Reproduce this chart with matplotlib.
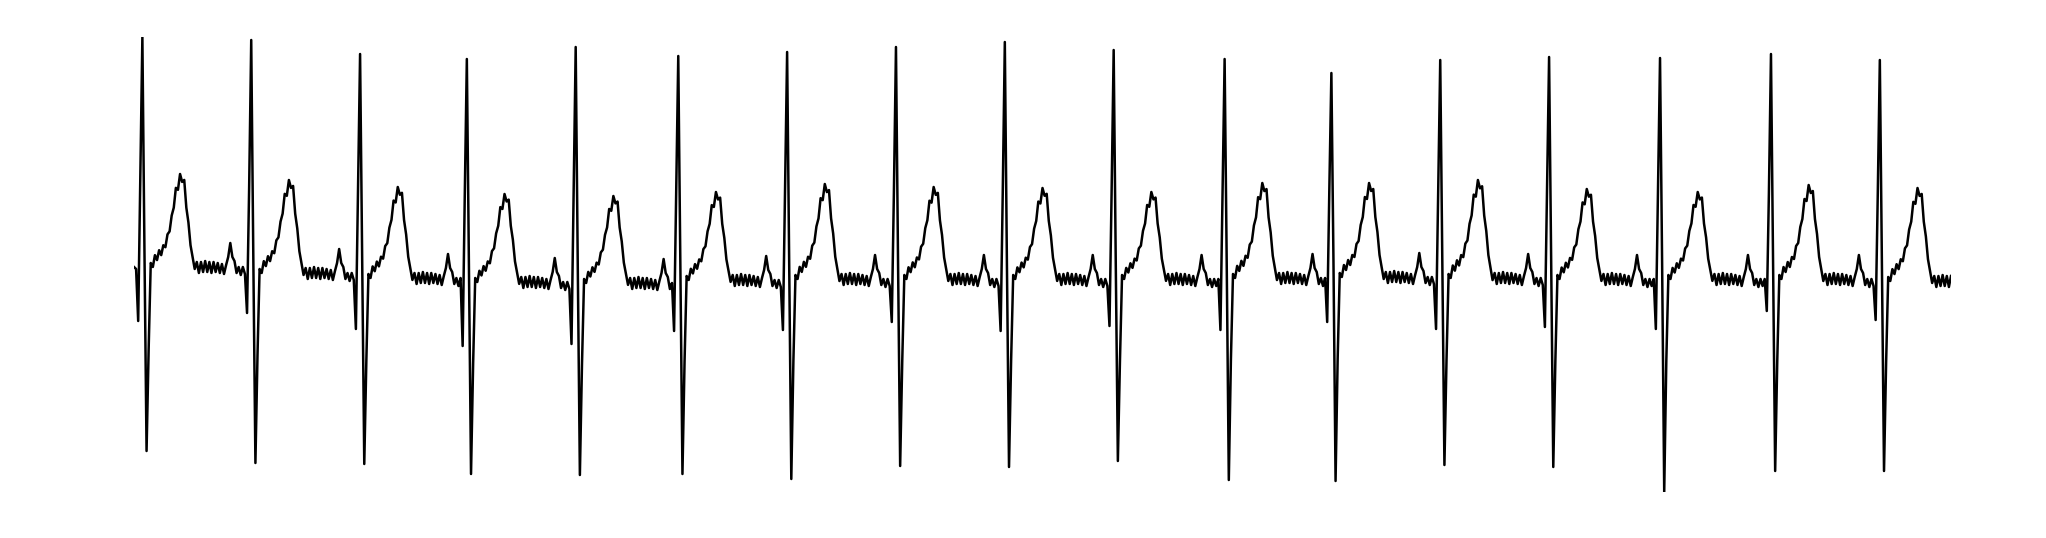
import numpy as np
import matplotlib.pyplot as plt

# readings per beat (17 beats), values in mV
baseline = [0.03, -0.03, -0.08, -0.12, -0.13, -0.10, -0.09, -0.09, -0.09,
            -0.09, -0.08, -0.07, -0.08, -0.09, -0.09, -0.09, -0.11]
q_dip = [-0.51, -0.43, -0.59, -0.76, -0.74, -0.61, -0.60, -0.52, -0.61,
         -0.56, -0.60, -0.52, -0.59, -0.57, -0.59, -0.41, -0.50]
r_peak = [2.33, 2.30, 2.16, 2.11, 2.23, 2.14, 2.18, 2.23, 2.28,
          2.20, 2.11, 1.97, 2.10, 2.13, 2.12, 2.16, 2.10]
s_trough = [-1.81, -1.93, -1.94, -2.04, -2.05, -2.04, -2.09, -1.96, -1.97,
            -1.91, -2.10, -2.11, -1.95, -1.97, -2.22, -2.01, -2.01]
t_peak = [0.96, 0.90, 0.83, 0.76, 0.74, 0.78, 0.86, 0.83, 0.82,
          0.78, 0.87, 0.87, 0.90, 0.81, 0.78, 0.85, 0.82]
# samples between successive R peaks
rr = [52, 52, 51, 52, 49, 52, 52, 52, 52, 53, 51, 52, 52, 53, 53, 52]

# one beat starting at the Q dip, relative to baseline (Q, R, S filled per beat)
beat_shape = [
    0.00, 0.85, 0.00, 0.15, 0.00, -0.82, 0.04,
    0.00, 0.12, 0.07, 0.17, 0.12, 0.22, 0.20, 0.33, 0.36, 0.52,
    0.60, 0.80, 0.78, 0.94, 0.86, 0.88, 0.60, 0.45, 0.22, 0.10, -0.02,
    0.05, -0.06, 0.05, -0.05, 0.06, -0.05, 0.05, -0.06, 0.05, -0.05,
    0.04, -0.06, 0.03, -0.07,
    0.02, 0.10, 0.24, 0.10, 0.06, -0.06,
    0.00, -0.08, 0.00, -0.07, 0.00, -0.07,
]
lead_in = [0.00, -0.02]
last_len = 37
T_REF = 0.94

sig = [baseline[0] + v for v in lead_in]
for i in range(len(r_peak)):
    n = rr[i] if i < len(rr) else last_len
    seg = np.array(beat_shape[:n], dtype=float)
    seg[7:28] *= (t_peak[i] - baseline[i]) / T_REF
    seg[0] = q_dip[i] - baseline[i]
    seg[2] = r_peak[i] - baseline[i]
    seg[4] = s_trough[i] - baseline[i]
    sig.extend(baseline[i] + seg)
sig = np.array(sig)
t = np.arange(len(sig))

W, H = 2046, 538
fig = plt.figure(figsize=(W / 100, H / 100), dpi=100)
ax = fig.add_axes([134 / W, (H - 492) / H, (1951 - 134) / W, (492 - 37) / H])
ax.plot(t, sig, color='black', linewidth=1.8)
ax.margins(0)
ax.axis('off')
fig.savefig('out.png', dpi=100)
